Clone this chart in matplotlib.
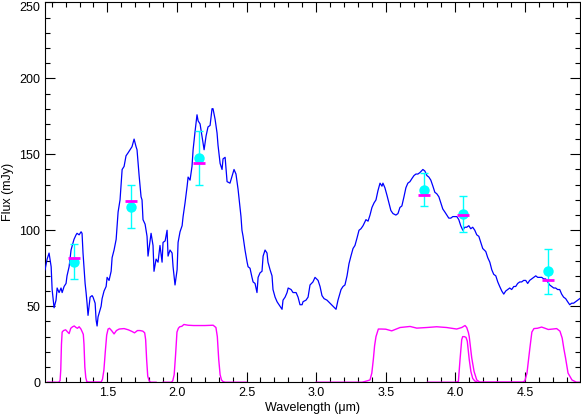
import matplotlib
matplotlib.use('Agg')
import matplotlib.pyplot as plt
import numpy as np

plt.rcParams['font.family'] = ['Liberation Sans', 'DejaVu Sans']

# spectrum (wavelength in micron, flux in mJy)
spec_wl = [1.052, 1.067, 1.081, 1.096, 1.103, 1.117, 1.131, 1.139, 1.153, 1.167, 1.175, 1.189, 1.203, 1.210,
           1.225, 1.239, 1.260, 1.275, 1.282, 1.297, 1.311, 1.318, 1.325, 1.340, 1.347, 1.354, 1.361, 1.376,
           1.390, 1.397, 1.412, 1.419, 1.426, 1.433, 1.455, 1.462, 1.476, 1.491, 1.498, 1.512, 1.527, 1.534,
           1.548, 1.563, 1.570, 1.577, 1.591, 1.606, 1.620, 1.634, 1.649, 1.663, 1.677, 1.692, 1.706, 1.713,
           1.728, 1.742, 1.749, 1.756, 1.771, 1.785, 1.792, 1.814, 1.828, 1.835, 1.850, 1.864, 1.878, 1.893,
           1.900, 1.915, 1.929, 1.936, 1.950, 1.965, 1.972, 1.986, 2.001, 2.008, 2.022, 2.037, 2.044, 2.058,
           2.073, 2.080, 2.094, 2.108, 2.116, 2.130, 2.144, 2.152, 2.166, 2.180, 2.195, 2.209, 2.223, 2.238,
           2.252, 2.259, 2.274, 2.288, 2.295, 2.310, 2.324, 2.331, 2.346, 2.360, 2.381, 2.403, 2.410, 2.424,
           2.439, 2.460, 2.467, 2.475, 2.489, 2.504, 2.511, 2.525, 2.539, 2.547, 2.561, 2.575, 2.583, 2.597,
           2.611, 2.619, 2.633, 2.647, 2.654, 2.669, 2.683, 2.690, 2.705, 2.719, 2.726, 2.755, 2.762, 2.777,
           2.791, 2.799, 2.820, 2.834, 2.856, 2.870, 2.884, 2.899, 2.906, 2.927, 2.942, 2.956, 2.977, 2.992,
           3.014, 3.028, 3.042, 3.057, 3.078, 3.100, 3.121, 3.143, 3.157, 3.179, 3.193, 3.207, 3.222, 3.236,
           3.250, 3.265, 3.279, 3.294, 3.308, 3.322, 3.337, 3.358, 3.373, 3.387, 3.401, 3.416, 3.430, 3.444,
           3.459, 3.473, 3.480, 3.494, 3.509, 3.523, 3.537, 3.552, 3.573, 3.588, 3.602, 3.616, 3.631, 3.645,
           3.659, 3.674, 3.688, 3.703, 3.717, 3.731, 3.746, 3.767, 3.781, 3.796, 3.810, 3.824, 3.839, 3.853,
           3.867, 3.882, 3.896, 3.910, 3.925, 3.939, 3.953, 3.968, 3.982, 3.996, 4.011, 4.025, 4.039, 4.054,
           4.068, 4.082, 4.097, 4.111, 4.125, 4.140, 4.154, 4.169, 4.183, 4.197, 4.219, 4.233, 4.248, 4.262,
           4.276, 4.291, 4.305, 4.319, 4.334, 4.348, 4.362, 4.377, 4.391, 4.405, 4.420, 4.434, 4.448, 4.463,
           4.477, 4.491, 4.506, 4.520, 4.534, 4.549, 4.563, 4.578, 4.592, 4.606, 4.621, 4.635, 4.649, 4.664,
           4.678, 4.692, 4.707, 4.721, 4.735, 4.750, 4.764, 4.778, 4.793, 4.807, 4.822, 4.836, 4.850, 4.865,
           4.879, 4.894]
spec_flux = [74, 81, 85, 76, 61, 49, 54, 62, 59, 62, 59, 63, 65, 70,
             76, 87, 94, 97, 98, 97, 99, 98, 85, 65, 59, 52, 44, 56,
             57, 56, 52, 41, 37, 43, 50, 55, 60, 63, 69, 67, 73, 82,
             87, 94, 103, 112, 120, 140, 142, 149, 151, 153, 155, 160, 155, 153,
             136, 122, 120, 107, 104, 96, 83, 98, 90, 73, 81, 79, 90, 79,
             92, 93, 100, 83, 87, 85, 76, 64, 74, 92, 99, 103, 109, 118,
             129, 135, 133, 142, 153, 165, 176, 172, 170, 162, 153, 162, 168, 169,
             180, 180, 173, 164, 156, 144, 140, 147, 148, 132, 131, 138, 140, 137,
             127, 109, 100, 96, 87, 79, 76, 75, 69, 66, 65, 59, 69, 72,
             73, 83, 87, 85, 79, 74, 70, 61, 56, 53, 52, 48, 54, 56,
             59, 62, 61, 59, 59, 56, 51, 51, 53, 54, 56, 64, 66, 69,
             67, 63, 57, 55, 54, 52, 50, 48, 54, 61, 63, 64, 70, 78,
             83, 88, 90, 95, 100, 101, 103, 107, 106, 110, 115, 118, 120, 126,
             131, 129, 131, 128, 123, 118, 113, 111, 110, 111, 115, 116, 122, 128,
             131, 132, 134, 136, 137, 137, 138, 140, 139, 136, 135, 133, 129, 125,
             124, 122, 118, 114, 112, 110, 108, 108, 109, 109, 109, 107, 103, 100,
             102, 102, 103, 101, 102, 100, 97, 96, 92, 88, 86, 82, 79, 74,
             71, 70, 66, 63, 60, 58, 60, 61, 62, 61, 63, 63, 65, 66,
             66, 67, 67, 65, 67, 68, 69, 70, 69, 69, 69, 68, 68, 66,
             64, 63, 62, 62, 61, 61, 58, 56, 55, 53, 51, 52, 52, 53,
             54, 55]

# photometry points with errors, and model photometry (magenta dashes)
phot_wl = [1.259, 1.668, 2.161, 3.775, 4.052, 4.668]
phot_flux = [79, 115.5, 147.5, 126.5, 111, 73]
phot_hi = [91, 130, 165, 138, 122.5, 88]
phot_lo = [68, 101.5, 129.5, 116, 99, 58]
model_flux = [81.5, 119, 144.5, 123, 110, 67.5]

# filter transmission curves (scaled)
J_wl = [1.07, 1.150, 1.160, 1.165, 1.170, 1.175, 1.185, 1.200, 1.215, 1.225, 1.237, 1.250, 1.262, 1.275, 1.285,
        1.297, 1.310, 1.320, 1.327, 1.332, 1.338, 1.345, 1.352, 1.362, 1.45]
J_tr = [0, 0, 1, 8, 25, 33, 34, 34.5, 33, 32, 35.5, 36.5, 37, 36, 35.5,
        36.5, 35, 33, 31.5, 25, 10, 3, 0.5, 0, 0]
H_wl = [1.35, 1.455, 1.465, 1.475, 1.485, 1.495, 1.505, 1.515, 1.530, 1.548, 1.565, 1.585, 1.620, 1.650, 1.675,
        1.695, 1.716, 1.735, 1.755, 1.768, 1.775, 1.782, 1.790, 1.800, 1.810, 1.85]
H_tr = [0, 0, 2, 8, 20, 31, 35, 35.5, 34, 31.8, 34, 35, 35.3, 34.5, 33.5,
        32.5, 34, 34, 33.6, 32.5, 28, 15, 4, 1, 0, 0]
K_wl = [1.90, 1.960, 1.970, 1.980, 1.990, 2.000, 2.010, 2.020, 2.035, 2.050, 2.080, 2.120, 2.200, 2.260, 2.280,
        2.290, 2.300, 2.310, 2.320, 2.330, 2.345, 2.50]
K_tr = [0, 0, 1, 5, 18, 33, 35.5, 36.5, 36.8, 38, 37.5, 37.3, 37.3, 37.5, 36,
        30, 15, 5, 1.5, 0.5, 0, 0]
L_wl = [3.00, 3.330, 3.351, 3.370, 3.387, 3.400, 3.411, 3.420, 3.430, 3.447, 3.470, 3.500, 3.543, 3.603, 3.675,
        3.723, 3.795, 3.866, 3.938, 4.010, 4.046, 4.070, 4.082, 4.094, 4.100, 4.118, 4.135, 4.154, 4.177, 4.30]
L_tr = [0, 0, 0.5, 1, 1.5, 6, 15, 24, 30, 35, 35, 34.9, 33.8, 36, 36.7,
        35.6, 36, 36.5, 36, 35, 36, 37.3, 36, 32.7, 30, 16, 7, 1.5, 0, 0]
N_wl = [3.80, 4.000, 4.022, 4.034, 4.046, 4.053, 4.065, 4.077, 4.086, 4.100, 4.112, 4.125, 4.140, 4.160, 4.50]
N_tr = [0, 0, 0.5, 15, 28, 30, 30, 29.5, 27, 15, 7, 2.5, 0.8, 0, 0]
M_wl = [4.30, 4.486, 4.500, 4.515, 4.525, 4.536, 4.550, 4.565, 4.590, 4.620, 4.645, 4.668, 4.700, 4.728, 4.752,
        4.768, 4.780, 4.792, 4.810, 4.838, 4.870, 4.90]
M_tr = [0, 0, 1, 6, 14, 22.6, 33, 35.3, 35.5, 36.3, 35.5, 34.7, 35, 35.3, 33.6,
        29, 22, 16, 6, 1.5, 0, 0]

fig = plt.figure(figsize=(5.81, 4.18), dpi=100)
ax = fig.add_axes([0.0775, 0.0856, 0.9208, 0.9088])

for fw, ft in [(J_wl, J_tr), (H_wl, H_tr), (K_wl, K_tr), (L_wl, L_tr), (N_wl, N_tr), (M_wl, M_tr)]:
    ax.plot(fw, ft, color='#ff00ff', lw=1.0, zorder=2)

ax.plot(spec_wl, spec_flux, color='#0000ff', lw=0.9, zorder=3)

pf = np.array(phot_flux)
yerr = [pf - np.array(phot_lo), np.array(phot_hi) - pf]
ax.errorbar(phot_wl, phot_flux, yerr=yerr, fmt='o', color='#00ffff', ms=7.5, mec='none',
            elinewidth=1.0, capsize=3, capthick=1.0, zorder=4)
ax.plot(phot_wl, model_flux, ls='none', marker='_', color='#ff00ff', ms=8, mew=2, zorder=5)

ax.set_xlim(1.052, 4.896)
ax.set_ylim(0, 250)
ax.set_xticks([1.5, 2.0, 2.5, 3.0, 3.5, 4.0, 4.5])
ax.set_xticks(np.arange(1.1, 4.9, 0.1), minor=True)
ax.set_yticks([0, 50, 100, 150, 200, 250])
ax.set_yticks(np.arange(0, 251, 10), minor=True)
ax.tick_params(which='both', direction='in', top=True, right=True, labelsize=9, width=0.8)
ax.tick_params(which='major', length=7)
ax.tick_params(which='minor', length=3.5)
for sp in ax.spines.values():
    sp.set_linewidth(0.8)

# top label sits just below the frame edge, as in the reference
ax.get_yticklabels()[-1].set_verticalalignment('top')

ax.set_xlabel('Wavelength (\u03bcm)', fontsize=9, labelpad=2)
ax.set_ylabel('Flux (mJy)', fontsize=9, labelpad=4)

fig.savefig('out.png', dpi=100)
